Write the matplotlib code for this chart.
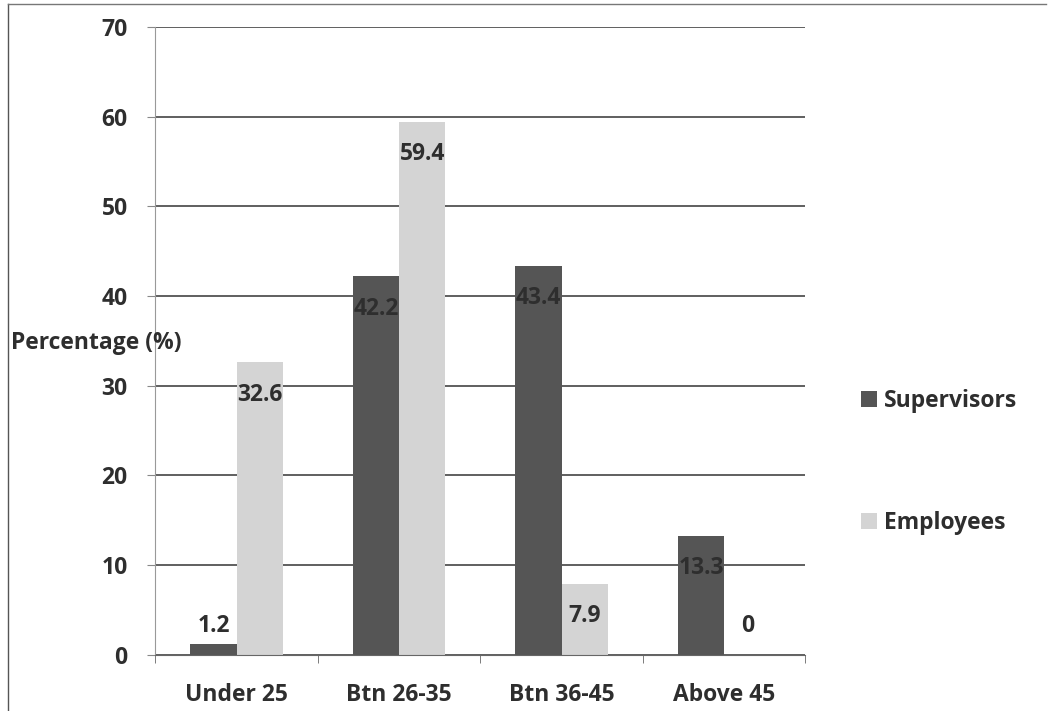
import matplotlib
matplotlib.use('Agg')
import matplotlib.pyplot as plt
import numpy as np
from matplotlib.lines import Line2D

categories = ['Under 25', 'Btn 26-35', 'Btn 36-45', 'Above 45']
supervisors = [1.2, 42.2, 43.4, 13.3]
employees = [32.6, 59.4, 7.9, 0]
series_names = ['Supervisors', 'Employees']

plt.rcParams['font.family'] = ['Open Sans', 'DejaVu Sans']
text_color = '#2e2e2e'
fs = 16.5

fig = plt.figure(figsize=(10.57, 7.11), dpi=100)
ax = fig.add_axes([0.147, 0.079, 0.615, 0.883])

x = np.arange(len(categories))
w = 0.285
b1 = ax.bar(x - w / 2, supervisors, w, color='#555555', label=series_names[0])
b2 = ax.bar(x + w / 2, employees, w, color='#d4d4d4', label=series_names[1])

for bars, vals in [(b1, supervisors), (b2, employees)]:
    for rect, v in zip(bars, vals):
        ypos = max(v - 3.6, 3.2)
        ax.text(rect.get_x() + rect.get_width() / 2, ypos, f"{v:g}",
                ha='center', va='center', fontsize=fs, fontweight='bold',
                color=text_color)

ax.set_xlim(-0.5, 3.5)
ax.set_ylim(0, 70)
ax.set_yticks(range(0, 71, 10))
ax.yaxis.grid(True, color='#444444', linewidth=1.2)
ax.set_axisbelow(True)

ax.set_xticks(x)
ax.set_xticklabels(categories, fontsize=fs, fontweight='bold', color=text_color)
ax.set_xticks(np.arange(-0.5, 4, 1), minor=True)
ax.tick_params(axis='x', which='major', length=0, pad=20)
ax.tick_params(axis='x', which='minor', length=6, color='#666666')
ax.tick_params(axis='y', length=6, color='#888888', labelsize=fs, labelcolor=text_color, pad=14)
for lbl in ax.get_yticklabels():
    lbl.set_fontweight('bold')

for side in ['top', 'right']:
    ax.spines[side].set_visible(False)
ax.spines['left'].set_color('#999999')
ax.spines['bottom'].set_color('#666666')

fig.text(0.01, 0.518, 'Percentage (%)', fontsize=fs, fontweight='bold',
         color=text_color, va='center', ha='left')

fig.legend(handles=[b1, b2], loc='center left', bbox_to_anchor=(0.795, 0.35),
           frameon=False, labelspacing=4.3, handlelength=0.7,
           handleheight=0.7, handletextpad=0.3, labelcolor=text_color,
           prop={'weight': 'bold', 'size': fs})

# scanned frame edges
fig.add_artist(Line2D([0.008, 0.008], [0.0, 0.995], color='#555555', linewidth=1, transform=fig.transFigure))
fig.add_artist(Line2D([0.008, 0.99], [0.995, 0.995], color='#777777', linewidth=1, transform=fig.transFigure))

fig.savefig('out.png', dpi=100)
